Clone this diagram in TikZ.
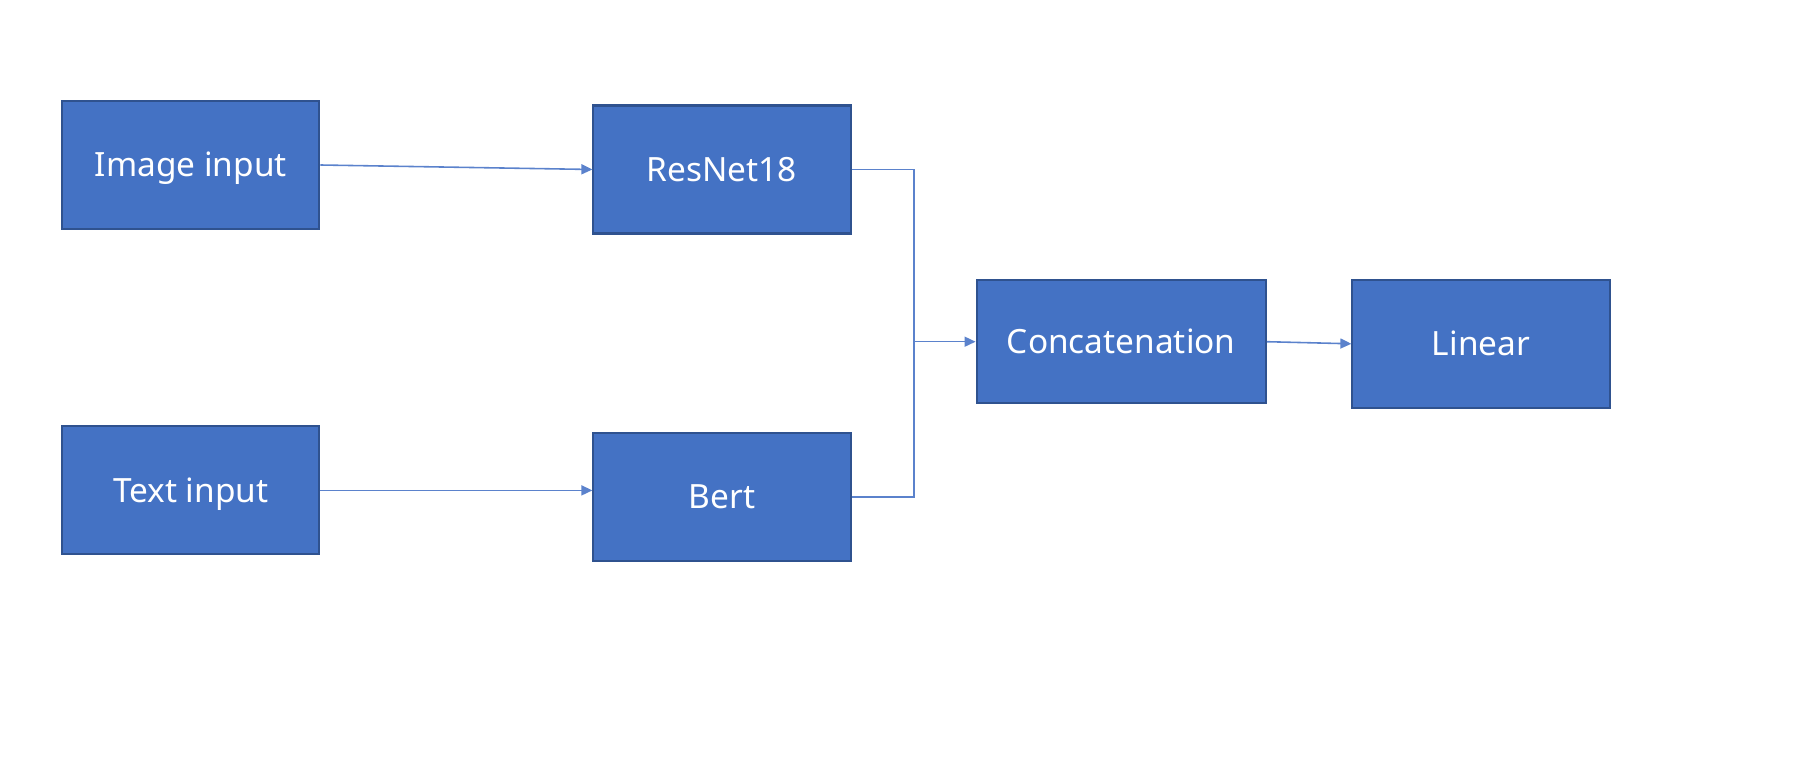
\documentclass[tikz,border=0pt]{standalone}
\usepackage{fontspec}
\setmainfont{Noto Sans}
\usepackage{xcolor}
\usepackage{tikz}
\usetikzlibrary{arrows.meta}

\definecolor{boxfill}{HTML}{4472C4}
\definecolor{boxline}{HTML}{2F528F}
\definecolor{wire}{HTML}{5B82CC}

\begin{document}
\begin{tikzpicture}[x=0.01cm, y=-0.01cm,
		block/.style={draw=boxline, line width=0.6pt, fill=boxfill, text=white,
			minimum width=2.57cm, minimum height=1.28cm, inner sep=0pt,
			text height=6.8pt, text depth=0pt,
			font=\fontsize{9.5}{11}\selectfont},
		wirearrow/.style={draw=wire, line width=0.45pt, -{Triangle[length=0.11cm, width=0.1cm]}},
		wireline/.style={draw=wire, line width=0.45pt}]
			\useasboundingbox (0,0) rectangle (1818,770);
			
			\def\xJOIN{914};
			
			\node [block] (img) at (190.8,165) {Image input};
			\node [block] (txt) at (190.8,490.4) {Text input};
			\node [block] (res) at (722,169.5) {ResNet18};
			\node [block] (bert) at (722,496.8) {Bert};
			\node [block, minimum width=2.89cm, minimum height=1.233cm] (cat) at (1121.2,341.7) {Concatenation};
			\node [block] (lin) at (1481,343.8) {Linear};
			
			\coordinate (j1) at (\xJOIN,169.5);
			\coordinate (j2) at (\xJOIN,496.8);
			\coordinate (jm) at (\xJOIN,341.7);
			
			%inputs to encoders
			\draw [wirearrow] (img.east) -- (res.west);
			\draw [wirearrow] (txt.east) -- (txt.east -| bert.west);
			
			%merge
			\draw [wireline] (res.east) -- (j1) -- (j2) -- (bert.east);
			\draw [wirearrow] (jm) -- (cat.west);
			\draw [wirearrow] (cat.east) -- (lin.west);
		\end{tikzpicture}
\end{document}
